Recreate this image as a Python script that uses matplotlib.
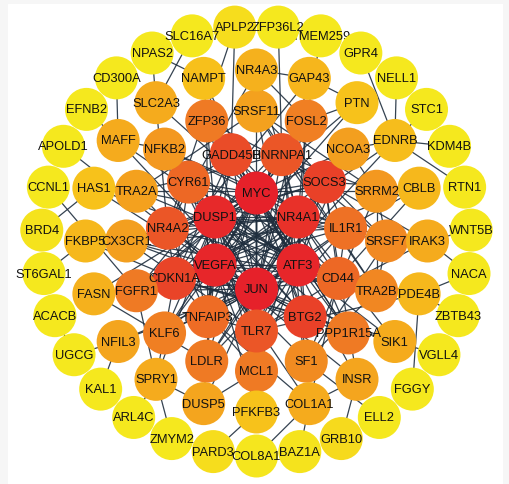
"""
Concentric PPI network: hub genes in the middle, degree falls off outwards.
"""

import numpy as np
import matplotlib
matplotlib.use("Agg")
import matplotlib.pyplot as plt
from matplotlib.collections import LineCollection
from matplotlib.colors import LinearSegmentedColormap

# Genes on each ring, clockwise starting at the top.
ring1 = ["MYC", "NR4A1", "ATF3", "JUN", "VEGFA", "DUSP1"]
ring2 = ["HNRNPA1", "SOCS3", "IL1R1", "CD44", "BTG2", "TLR7", "TNFAIP3",
         "CDKN1A", "NR4A2", "CYR61", "GADD45B"]
ring3 = ["SRSF11", "FOSL2", "NCOA3", "SRRM2", "SRSF7", "TRA2B", "PPP1R15A",
         "SF1", "MCL1", "LDLR", "KLF6", "FGFR1", "CX3CR1", "TRA2A", "NFKB2",
         "ZFP36"]
ring4 = ["NR4A3", "GAP43", "PTN", "EDNRB", "CBLB", "IRAK3", "PDE4B", "SIK1",
         "INSR", "COL1A1", "PFKFB3", "DUSP5", "SPRY1", "NFIL3", "FASN",
         "FKBP5", "HAS1", "MAFF", "SLC2A3", "NAMPT"]
ring5 = ["ZFP36L2", "TMEM259", "GPR4", "NELL1", "STC1", "KDM4B", "RTN1",
         "WNT5B", "NACA", "ZBTB43", "VGLL4", "FGGY", "ELL2", "GRB10", "BAZ1A",
         "COL8A1", "PARD3", "ZMYM2", "ARL4C", "KAL1", "UGCG", "ACACB",
         "ST6GAL1", "BRD4", "CCNL1", "APOLD1", "EFNB2", "CD300A", "NPAS2",
         "SLC16A7", "APLP2"]

score1 = [100, 94, 98, 100, 98, 97]
score2 = [80, 88, 68, 72, 88, 80, 70, 87, 80, 72, 84]
score3 = [46, 62, 47, 50, 57, 58, 64, 56, 64, 64, 62, 64, 47, 46, 50, 64]
score4 = [37, 34, 27, 30, 33, 40, 33, 40, 44, 40, 27, 44, 40, 44, 37, 33,
          27, 40, 40, 28]
score5 = [3, 3, 3, 3, 3, 3, 3, 3, 3, 3, 3, 3, 3, 12, 6, 4, 10, 3, 3, 3, 3,
          3, 3, 6, 3, 3, 3, 3, 3, 3, 10]

# Interactions.
links = {
    "MYC": ["NR4A1", "ATF3", "JUN", "VEGFA", "DUSP1"],
    "NR4A1": ["ATF3", "JUN", "VEGFA", "DUSP1"],
    "ATF3": ["JUN", "VEGFA", "DUSP1"],
    "JUN": ["VEGFA", "DUSP1"],
    "VEGFA": ["DUSP1"],
    "GADD45B": ["MYC", "JUN", "ATF3", "DUSP1", "NR4A1", "CDKN1A", "BTG2", "VEGFA"],
    "HNRNPA1": ["MYC", "JUN", "NR4A1", "ATF3", "VEGFA", "DUSP1", "SOCS3"],
    "SOCS3": ["MYC", "JUN", "ATF3", "VEGFA", "DUSP1", "NR4A1", "IL1R1", "CD44", "TLR7"],
    "IL1R1": ["JUN", "ATF3", "MYC", "VEGFA", "NR4A1", "DUSP1", "CD44", "TLR7"],
    "CD44": ["MYC", "JUN", "VEGFA", "ATF3", "DUSP1", "NR4A1", "TLR7", "CDKN1A"],
    "BTG2": ["MYC", "JUN", "ATF3", "NR4A1", "DUSP1", "VEGFA", "CDKN1A", "CYR61"],
    "TLR7": ["MYC", "JUN", "ATF3", "VEGFA", "DUSP1", "NR4A1", "TNFAIP3", "CYR61"],
    "TNFAIP3": ["JUN", "MYC", "ATF3", "VEGFA", "DUSP1", "NR4A1", "NR4A2"],
    "CDKN1A": ["MYC", "JUN", "ATF3", "VEGFA", "DUSP1", "NR4A1", "NR4A2", "CYR61"],
    "NR4A2": ["MYC", "JUN", "ATF3", "NR4A1", "VEGFA", "DUSP1", "CYR61"],
    "CYR61": ["MYC", "JUN", "VEGFA", "ATF3", "NR4A1", "DUSP1", "GADD45B"],
    "SRSF11": ["HNRNPA1", "SRSF7", "TRA2A", "TRA2B", "SF1", "SRRM2"],
    "FOSL2": ["JUN", "MYC", "ATF3", "VEGFA", "NR4A1", "DUSP1"],
    "NCOA3": ["MYC", "JUN", "ATF3", "NR4A1", "SRRM2"],
    "SRRM2": ["HNRNPA1", "SRSF7", "TRA2B", "SF1", "TRA2A"],
    "SRSF7": ["HNRNPA1", "TRA2B", "TRA2A", "SF1"],
    "TRA2B": ["HNRNPA1", "TRA2A", "SF1"],
    "PPP1R15A": ["ATF3", "JUN", "MYC", "GADD45B", "DUSP1", "NR4A1", "CDKN1A"],
    "SF1": ["HNRNPA1", "TRA2A"],
    "MCL1": ["MYC", "JUN", "ATF3", "VEGFA", "CDKN1A", "NR4A1", "DUSP1"],
    "LDLR": ["JUN", "MYC", "VEGFA", "ATF3", "NR4A1"],
    "KLF6": ["JUN", "MYC", "ATF3", "CDKN1A", "VEGFA", "DUSP1", "NR4A1"],
    "FGFR1": ["VEGFA", "JUN", "MYC", "CD44", "NR4A1", "DUSP1"],
    "CX3CR1": ["JUN", "MYC", "VEGFA", "TLR7", "IL1R1", "SOCS3", "CD44"],
    "TRA2A": ["HNRNPA1"],
    "NFKB2": ["MYC", "JUN", "TNFAIP3", "IL1R1", "TLR7", "CD44"],
    "ZFP36": ["MYC", "JUN", "DUSP1", "NR4A1", "ATF3", "TNFAIP3", "SOCS3"],
    "NR4A3": ["NR4A1", "NR4A2", "JUN", "GAP43", "FOSL2"],
    "GAP43": ["PTN", "JUN", "FGFR1"],
    "PTN": ["FGFR1", "VEGFA", "FOSL2"],
    "EDNRB": ["KDM4B", "RTN1", "GPR4", "NELL1", "STC1", "VEGFA", "JUN", "NCOA3"],
    "CBLB": ["SOCS3", "CD44", "IL1R1", "FGFR1"],
    "IRAK3": ["IL1R1", "TLR7", "WNT5B", "NACA", "SOCS3"],
    "PDE4B": ["NACA", "ZBTB43", "FGGY", "CD44", "TLR7", "ATF3"],
    "SIK1": ["VGLL4", "CDKN1A", "JUN", "CYR61", "NR4A1"],
    "INSR": ["GRB10", "COL1A1", "SOCS3", "VEGFA", "MYC"],
    "COL1A1": ["COL8A1", "BAZ1A", "CD44", "VEGFA", "TNFAIP3"],
    "PFKFB3": ["PARD3", "MYC", "VEGFA", "JUN"],
    "DUSP5": ["SPRY1", "MCL1", "DUSP1", "JUN"],
    "SPRY1": ["ZMYM2", "ARL4C", "FGFR1", "DUSP1", "KLF6"],
    "NFIL3": ["KAL1", "UGCG", "ATF3", "JUN"],
    "FASN": ["FGFR1", "LDLR", "MYC"],
    "FKBP5": ["ST6GAL1", "CDKN1A", "NR4A1"],
    "HAS1": ["BRD4", "CD44", "VEGFA"],
    "MAFF": ["CD300A", "EFNB2", "NFKB2", "ATF3", "JUN"],
    "SLC2A3": ["NPAS2", "SLC16A7", "MYC", "NR4A2"],
    "NAMPT": ["NPAS2", "MYC", "ZFP36"],
    "APLP2": ["GADD45B", "NR4A2"],
    "ZFP36L2": ["HNRNPA1"],
    "TMEM259": ["FOSL2"],
    "ELL2": ["SF1"],
    "ACACB": ["UGCG"],
    "CCNL1": ["FGFR1"],
    "APOLD1": ["NR4A2"],
}

rings = [ring1, ring2, ring3, ring4, ring5]
scores = score1 + score2 + score3 + score4 + score5
names = ring1 + ring2 + ring3 + ring4 + ring5

# layout in pixel units of the 510x485 picture
cx, cy = 256.5, 242.0
radii = [48, 90, 130, 171, 215]
node_r = 21.5

pos = {}
for ring, r in zip(rings, radii):
    n = len(ring)
    step = 360.0 / n
    start = -90.0 if n % 2 == 0 else -90.0 + step / 2
    if len(ring) == 31:
        start = -90.0 + step / 2
    for k, g in enumerate(ring):
        a = np.radians(start + k * step)
        pos[g] = (cx + r * np.cos(a), cy + r * np.sin(a))
# ring with 11 nodes is symmetric about the top too
# (handled by the odd-count offset above)

cmap = LinearSegmentedColormap.from_list(
    "hub", [(0.0, "#f5ec1e"), (0.25, "#f7c51b"), (0.45, "#f4a31e"),
            (0.65, "#ef7824"), (0.85, "#ea4a28"), (1.0, "#e6212a")])

fig = plt.figure(figsize=(5.10, 4.85), dpi=100, facecolor="#f6f6f6")
ax = fig.add_axes([8 / 510, 0, 495 / 510, 480 / 485])
ax.set_facecolor("white")
ax.set_xlim(8, 503)
ax.set_ylim(485, 5)
ax.set_aspect("equal")
ax.axis("off")
ax.add_patch(plt.Rectangle((8, 5), 495, 480, color="white", zorder=0))

segs = []
for a, targets in links.items():
    for b in targets:
        segs.append([pos[a], pos[b]])
ax.add_collection(LineCollection(segs, colors="#1f2e3e", linewidths=0.9,
                                 alpha=0.9, zorder=1))

# a few nodes sit above their neighbours' labels, as in the original drawing
on_top = ["TLR7", "ZFP36L2", "GPR4"]

size = (2 * node_r * 72 / 100) ** 2
xs = np.array([pos[g][0] for g in names])
ys = np.array([pos[g][1] for g in names])
cols = cmap(np.array(scores) / 100.0)
low = np.array([g not in on_top for g in names])
ax.scatter(xs[low], ys[low], s=size, c=cols[low], linewidths=0, zorder=2)
ax.scatter(xs[~low], ys[~low], s=size, c=cols[~low], linewidths=0, zorder=4)

for g in names:
    ax.text(pos[g][0], pos[g][1], g, ha="center", va="center",
            fontsize=9.3, family="Liberation Sans", color="#111111",
            zorder=5 if g in on_top else 3)

fig.savefig("out.png", dpi=100, facecolor=fig.get_facecolor())
